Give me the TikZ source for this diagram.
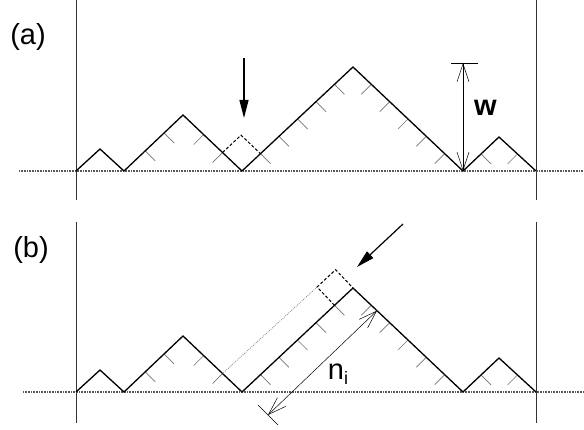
\documentclass[tikz,border=0pt]{standalone}
\usepackage{fontspec}
\setmainfont{Liberation Sans}
\usetikzlibrary{arrows.meta,calc}
\begin{document}
\begin{tikzpicture}[x=1pt,y=-1pt,
  profile/.style={line width=1.3pt, black, line join=miter},
  tickmark/.style={black!55, line width=0.7pt},
  frame/.style={line width=0.7pt, black!80},
  groundline/.style={line width=1.3pt, black!65, dash pattern=on 0.8pt off 0.8pt},
  particle/.style={line width=1pt, black, dash pattern=on 3pt off 2pt},
  trail/.style={line width=0.8pt, black!50, dash pattern=on 0.8pt off 1.2pt},
  droparrow/.style={line width=1.2pt, -{Triangle[length=18pt,width=9pt]}},
  measure/.style={line width=0.5pt, {Straight Barb[length=18pt,width=12pt,line width=0.5pt]}-{Straight Barb[length=18pt,width=12pt,line width=0.5pt]}},
  lbl/.style={inner sep=0pt, font=\fontsize{29}{34}\selectfont}
]
\useasboundingbox (0,0) rectangle (584,430);

% ---------- both panels: profile, frame, ground, ticks ----------
\foreach \p/\dy/\top/\bot/\gx in {a/0/0/200/19, b/221/222/423/23}{
  \coordinate (\p0) at (76,171+\dy);
  \coordinate (\p1) at (100,149+\dy);
  \coordinate (\p2) at (124,171+\dy);
  \coordinate (\p3) at (183,115+\dy);
  \coordinate (\p4) at (242,171+\dy);
  \coordinate (\p5) at (353,67+\dy);
  \coordinate (\p6) at (463,171+\dy);
  \coordinate (\p7) at (499,137+\dy);
  \coordinate (\p8) at (536,171+\dy);
  \coordinate (\p LT) at (76,\top);
  \coordinate (\p LB) at (76,\bot);
  \coordinate (\p RT) at (536,\top);
  \coordinate (\p RB) at (536,\bot);
  \coordinate (\p GL) at (\gx,171+\dy);
  \coordinate (\p GR) at (584,171+\dy);
  \draw[frame] (\p LT) -- (\p LB);
  \draw[frame] (\p RT) -- (\p RB);
  \draw[groundline] (\p GL) -- (\p GR);
  \foreach \s/\e/\t/\d in {2/3/0.36/1, 2/3/0.68/1, 3/4/0.35/-1, 3/4/0.67/-1,
      4/5/0.1667/1, 4/5/0.3333/1, 4/5/0.5/1, 4/5/0.6667/1, 4/5/0.8333/1,
      5/6/0.1667/-1, 5/6/0.3333/-1, 5/6/0.5/-1, 5/6/0.6667/-1, 5/6/0.8333/-1,
      6/7/0.5/1, 7/8/0.5/-1}{
    \draw[tickmark] ($(\p\s)!\t!(\p\e)$) -- ++(10*\d,10);
  }
  \draw[profile] (\p0) -- (\p1) -- (\p2) -- (\p3) -- (\p4) -- (\p5) -- (\p6) -- (\p7) -- (\p8);
}

% ---------- panel (a) ----------
\coordinate (dl) at ($(a4)!0.33!(a3)$);
\coordinate (dr) at ($(a4)!0.1667!(a5)$);
\coordinate (dt) at ($(dl)+(dr)-(a4)$);
\draw[particle] (dl) -- (dt) -- (dr);

\coordinate (dropAs) at (244,58);
\coordinate (dropAe) at (244,118);
\draw[droparrow] (dropAs) -- (dropAe);

\coordinate (wtop) at (463,63);
\coordinate (wbl) at (451,63);
\coordinate (wbr) at (478,63);
\draw[line width=0.7pt] (wbl) -- (wbr);
\draw[measure] (wtop) -- (a6);
\node[lbl, font=\fontsize{29}{34}\selectfont\bfseries] (wlabel) at (485.5,108) {w};

\node[lbl] (alabel) at (28,36.5) {(a)};

% ---------- panel (b) ----------
\coordinate (S1) at ($(b5)!0.1667!(b4)$);
\coordinate (S2) at (335.6,269.7);
\coordinate (S3) at ($(S1)+(S2)-(b5)$);
\coordinate (trailend) at ($(b3)!0.67!(b4)$);
\draw[trail] (S3) -- (trailend);
\draw[particle] (S1) -- (S3) -- (S2) -- (b5);

\coordinate (dropBs) at (403,224);
\coordinate (dropBe) at (357,267);
\draw[droparrow] (dropBs) -- (dropBe);

\coordinate (N1) at ($(b5)!0.218!(b6)$);
\coordinate (N2) at (268,415);
\coordinate (Nt1) at (258,405);
\coordinate (Nt2) at (278,425);
\draw[line width=0.6pt] (Nt1) -- (Nt2);
\draw[measure] (N2) -- (N1);
\node[lbl] (nlabel) at (338,374) {n\raisebox{-5pt}{\fontsize{18}{20}\selectfont i}};

\node[lbl] (blabel) at (31,250) {(b)};
\end{tikzpicture}
\end{document}
